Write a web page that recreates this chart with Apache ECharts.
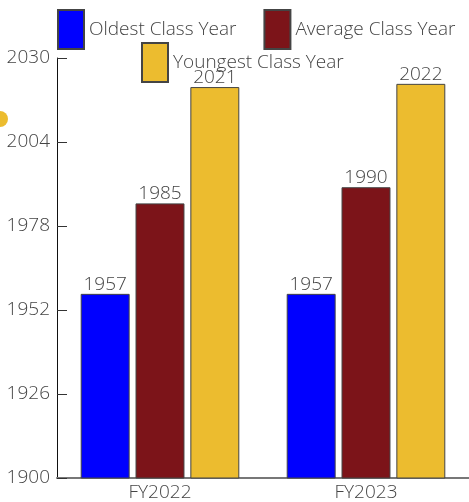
<!DOCTYPE html>
<html>
<head>
<meta charset="utf-8">
<script src="https://cdn.jsdelivr.net/npm/echarts@6/dist/echarts.min.js"></script>
<style>
  html, body { margin: 0; padding: 0; background: #fff; }
  #chart { width: 469px; height: 502px; }
</style>
</head>
<body>
<div id="chart"></div>
<script>
// data
const categories = ["FY2022", "FY2023"];
const oldestYear = [1957, 1957];
const averageYear = [1985, 1990];
const youngestYear = [2021, 2022];
const seriesNames = ["Oldest Class Year", "Average Class Year", "Youngest Class Year"];
const seriesColors = ["#0000ff", "#7c1419", "#ecbc2f"];

const chart = echarts.init(document.getElementById("chart"));

function makeBar(name, data, color) {
  return {
    name: name,
    type: "bar",
    data: data,
    barGap: "12%",
    barCategoryGap: "23%",
    itemStyle: {
      color: color,
      borderColor: "#444",
      borderWidth: 1,
    },
    label: {
      show: true,
      position: "top",
      distance: 0,
      color: "#444",
      fontSize: 19,
      fontWeight: 300,
      fontFamily: "Open Sans",
    },
  };
}

const legendText = {
  color: "#444",
  fontSize: 19,
  fontWeight: 300,
  fontFamily: "Open Sans",
};

const option = {
  animation: false,
  textStyle: { fontFamily: "Open Sans" },
  legend: [
    {
      data: [seriesNames[0], seriesNames[1]],
      left: 57,
      top: 9,
      padding: 0,
      itemWidth: 26,
      itemHeight: 39,
      itemGap: 27,
      itemTextGap: 0,
      icon: "rect",
      textStyle: legendText,
    },
    {
      data: [seriesNames[2]],
      left: 141,
      top: 42,
      padding: 0,
      itemWidth: 26,
      itemHeight: 39,
      itemTextGap: 0,
      icon: "rect",
      textStyle: legendText,
    },
  ],
  grid: {
    left: 57,
    right: 0,
    top: 58,
    bottom: 24,
    containLabel: false,
  },
  xAxis: {
    type: "category",
    data: categories,
    axisLine: { lineStyle: { color: "#777", width: 2 } },
    axisTick: { inside: true, length: 10, lineStyle: { color: "#111" } },
    axisLabel: { color: "#444", fontSize: 19, fontWeight: 300, margin: 5 },
  },
  yAxis: {
    type: "value",
    min: 1900,
    max: 2030,
    interval: 26,
    axisLine: { show: true, lineStyle: { color: "#111", width: 1 } },
    axisTick: { show: true, inside: true, length: 10, lineStyle: { color: "#333" } },
    axisLabel: {
      color: "#444",
      fontSize: 19,
      fontWeight: 300,
      margin: 7,
      formatter: function (v) { return String(v); },
    },
    splitLine: { show: false },
  },
  graphic: [
    {
      type: "circle",
      shape: { cx: 0, cy: 119, r: 8 },
      style: { fill: "#ecbc2f" },
    },
  ],
  series: [
    makeBar(seriesNames[0], oldestYear, seriesColors[0]),
    makeBar(seriesNames[1], averageYear, seriesColors[1]),
    makeBar(seriesNames[2], youngestYear, seriesColors[2]),
  ],
};

chart.setOption(option);
window.onresize = function () {
  chart.resize();
};
</script>
</body>
</html>
